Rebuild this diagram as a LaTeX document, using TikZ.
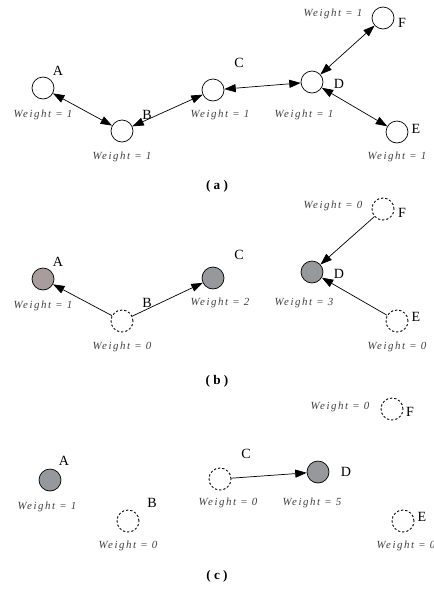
\documentclass[tikz,border=0pt]{standalone}
\usepackage{fontspec}
\setmainfont{Liberation Serif}
\usetikzlibrary{arrows.meta}
\definecolor{nodegrey}{RGB}{150,152,156}
\definecolor{nodepink}{RGB}{168,156,156}

\begin{document}
\begin{tikzpicture}[x=0.02cm,y=-0.02cm,
    >={Triangle[length=6.5pt,width=4.6pt]},
    vtx/.style={circle,draw,thin,minimum size=0.44cm,inner sep=0pt},
    gone/.style={vtx,line width=0.5pt,dash pattern=on 1.3pt off 1.1pt},
    full/.style={vtx,fill=nodegrey},
    lbl/.style={font=\fontsize{8}{9}\selectfont},
    wgt/.style={text=black!75,font=\fontsize{6.2}{7}\selectfont\itshape\addfontfeature{LetterSpace=14}},
    capt/.style={font=\fontsize{7.5}{8}\selectfont\bfseries}]
  \useasboundingbox (0,0) rectangle (433,602);

  % (a)
  \node[vtx] (aA) at (43,88) {};
  \node[vtx] (aB) at (122,131) {};
  \node[vtx] (aC) at (213,90) {};
  \node[vtx] (aD) at (312,82) {};
  \node[vtx] (aE) at (397,132) {};
  \node[vtx] (aF) at (383,18) {};
  \node[lbl] (aAl) at (58,71) {A};
  \node[lbl] (aBl) at (147,115) {B};
  \node[lbl] (aCl) at (239,63) {C};
  \node[lbl] (aDl) at (339,84) {D};
  \node[lbl] (aEl) at (416,129) {E};
  \node[lbl] (aFl) at (402,23) {F};
  \node[wgt] (aAw) at (43,115) {Weight = 1};
  \node[wgt] (aBw) at (122,157) {Weight = 1};
  \node[wgt] (aCw) at (220,115) {Weight = 1};
  \node[wgt] (aDw) at (304,115) {Weight = 1};
  \node[wgt] (aEw) at (397,157) {Weight = 1};
  \node[wgt] (aFw) at (333,14) {Weight = 1};
  \draw[<->] (aA) -- (aB);
  \draw[<->] (aB) -- (aC);
  \draw[<->] (aC) -- (aD);
  \draw[<->] (aD) -- (aF);
  \draw[<->] (aD) -- (aE);
  \node[capt] (acap) at (217,186) {( a )};

  % (b)
  \begin{scope}[shift={(0,190)}]
    \node[vtx,fill=nodepink] (bA) at (43,89) {};
    \node[gone] (bB) at (122,131) {};
    \node[full] (bC) at (213,88) {};
    \node[full] (bD) at (312,82) {};
    \node[gone] (bE) at (397,131) {};
    \node[gone] (bF) at (383,19) {};
    \node[lbl] (bAl) at (58,72) {A};
    \node[lbl] (bBl) at (147,113) {B};
    \node[lbl] (bCl) at (239,65) {C};
    \node[lbl] (bDl) at (339,84) {D};
    \node[lbl] (bEl) at (416,127) {E};
    \node[lbl] (bFl) at (402,23) {F};
    \node[wgt] (bAw) at (43,116) {Weight = 1};
    \node[wgt] (bBw) at (122,157) {Weight = 0};
    \node[wgt] (bCw) at (220,113) {Weight = 2};
    \node[wgt] (bDw) at (304,113) {Weight = 3};
    \node[wgt] (bEw) at (397,157) {Weight = 0};
    \node[wgt] (bFw) at (333,16) {Weight = 0};
    \draw[->] (bB) -- (bA);
    \draw[->] (bB) -- (bC);
    \draw[->] (bF) -- (bD);
    \draw[->] (bE) -- (bD);
    \node[capt] (bcap) at (217,191) {( b )};
  \end{scope}

  % (c)
  \begin{scope}[shift={(0,390)}]
    \node[full] (cA) at (50,90) {};
    \node[gone] (cB) at (128,131) {};
    \node[gone] (cC) at (220,89) {};
    \node[full] (cD) at (318,82) {};
    \node[gone] (cE) at (403,131) {};
    \node[gone] (cF) at (392,19) {};
    \node[lbl] (cAl) at (64,71) {A};
    \node[lbl] (cBl) at (152,113) {B};
    \node[lbl] (cCl) at (246,64) {C};
    \node[lbl] (cDl) at (346,82) {D};
    \node[lbl] (cEl) at (422,127) {E};
    \node[lbl] (cFl) at (410,22) {F};
    \node[wgt] (cAw) at (47,117) {Weight = 1};
    \node[wgt] (cBw) at (128,156) {Weight = 0};
    \node[wgt] (cCw) at (228,113) {Weight = 0};
    \node[wgt] (cDw) at (312,113) {Weight = 5};
    \node[wgt] (cEw) at (406,156) {Weight = 0};
    \node[wgt] (cFw) at (340,17) {Weight = 0};
    \draw[->] (cC) -- (cD);
    \node[capt] (ccap) at (217,186) {( c )};
  \end{scope}
\end{tikzpicture}
\end{document}
